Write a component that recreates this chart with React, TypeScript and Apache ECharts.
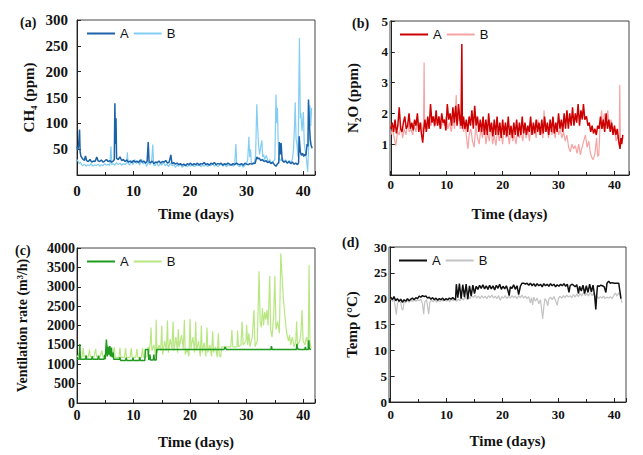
import React, { useEffect, useRef } from "react";
import * as echarts from "echarts";

// [day, ppm]
const ch4A: number[][] = [[0,55],[0.15,48],[0.3,60],[0.45,88],[0.55,45],[0.7,36],[0.9,33],[1.1,30],[1.3,28],[1.5,37],[1.7,28],[2.0,26],[2.3,30],[2.6,25],[2.9,27],[3.2,26],[3.5,35],[3.7,28],[4.0,26],[4.3,29],[4.6,25],[4.9,27],[5.2,30],[5.5,26],[5.8,28],[6.1,25],[6.4,27],[6.6,30],[6.7,139],[6.8,60],[6.9,110],[7.0,32],[7.3,30],[7.6,35],[7.9,28],[8.2,30],[8.5,26],[8.8,29],[9.1,25],[9.4,27],[9.7,24],[10.0,28],[10.3,25],[10.6,27],[10.9,24],[11.2,29],[11.5,25],[11.8,27],[12.1,23],[12.4,26],[12.6,64],[12.75,25],[13.0,24],[13.3,27],[13.6,22],[13.9,25],[14.2,24],[14.5,27],[14.8,23],[15.1,26],[15.4,25],[15.7,28],[16.0,23],[16.3,25],[16.6,39],[16.8,22],[17.1,24],[17.4,21],[17.7,23],[18.0,20],[18.3,22],[18.6,19],[18.9,21],[19.2,18],[19.5,22],[19.8,20],[20.1,23],[20.4,19],[20.7,22],[21.0,20],[21.3,23],[21.6,19],[21.9,22],[22.2,21],[22.5,24],[22.8,20],[23.1,22],[23.4,19],[23.7,23],[24.0,21],[24.3,24],[24.6,20],[24.9,22],[25.2,21],[25.5,23],[25.8,19],[26.1,22],[26.4,20],[26.7,23],[27.0,21],[27.3,19],[27.6,22],[27.9,20],[28.2,23],[28.5,21],[28.8,20],[29.1,22],[29.4,19],[29.7,23],[30.0,21],[30.3,20],[30.6,22],[30.9,21],[31.2,23],[31.5,22],[31.8,35],[32.0,31],[32.2,33],[32.5,28],[32.8,30],[33.1,26],[33.4,28],[33.7,24],[34.0,26],[34.3,22],[34.6,25],[34.9,20],[35.2,17],[35.5,22],[35.7,24],[35.8,64],[35.95,40],[36.1,62],[36.3,28],[36.6,25],[36.9,27],[37.2,23],[37.5,26],[37.8,22],[38.1,25],[38.4,21],[38.7,23],[39.0,20],[39.2,24],[39.3,75],[39.5,45],[39.7,38],[39.9,42],[40.1,36],[40.3,40],[40.5,38],[40.7,60],[40.85,55],[40.95,146],[41.1,100],[41.25,70],[41.4,58],[41.6,52]];
const ch4B: number[][] = [[0,30],[0.2,26],[0.4,22],[0.6,25],[0.8,20],[1.0,18],[1.3,21],[1.6,17],[1.9,20],[2.2,18],[2.5,22],[2.8,17],[3.1,20],[3.4,18],[3.7,21],[4.0,17],[4.3,20],[4.6,18],[4.9,22],[5.2,19],[5.5,21],[5.8,18],[6.0,55],[6.15,20],[6.4,22],[6.7,19],[7.0,24],[7.3,20],[7.6,23],[7.9,19],[8.2,22],[8.5,20],[8.8,24],[8.9,44],[9.05,22],[9.3,19],[9.6,28],[9.9,20],[10.2,30],[10.5,22],[10.8,27],[11.1,19],[11.4,31],[11.7,21],[12.0,26],[12.3,17],[12.6,24],[12.9,20],[13.2,25],[13.4,59],[13.55,20],[13.8,18],[14.1,24],[14.4,17],[14.7,22],[15.0,19],[15.3,25],[15.6,18],[15.9,21],[16.2,16],[16.5,23],[16.8,18],[17.1,20],[17.4,15],[17.7,19],[18.0,17],[18.3,21],[18.6,15],[18.9,18],[19.2,20],[19.5,16],[19.8,19],[20.1,17],[20.4,21],[20.7,16],[21.0,19],[21.3,18],[21.6,22],[21.9,16],[22.2,19],[22.5,17],[22.8,21],[23.1,16],[23.4,20],[23.7,18],[24.0,22],[24.3,17],[24.6,20],[24.9,16],[25.2,19],[25.5,21],[25.8,17],[26.1,20],[26.4,16],[26.7,19],[27.0,18],[27.3,21],[27.6,17],[27.9,20],[28.1,60],[28.25,22],[28.5,18],[28.8,16],[29.1,20],[29.4,15],[29.7,19],[30.0,22],[30.2,30],[30.4,74],[30.55,35],[30.7,50],[30.85,22],[31.1,20],[31.4,25],[31.6,40],[31.8,137],[31.95,95],[32.1,60],[32.3,40],[32.5,55],[32.7,67],[32.85,35],[33.0,40],[33.2,30],[33.5,38],[33.8,25],[34.1,30],[34.4,22],[34.7,26],[35.0,30],[35.2,156],[35.35,100],[35.45,130],[35.6,60],[35.8,30],[36.0,28],[36.3,33],[36.6,25],[36.9,30],[37.2,22],[37.5,28],[37.8,25],[38.1,30],[38.3,50],[38.5,100],[38.6,141],[38.75,70],[38.9,60],[39.1,35],[39.35,265],[39.5,110],[39.6,120],[39.8,85],[40.05,122],[40.2,60],[40.4,45],[40.6,30],[40.8,6],[41.0,60],[41.2,135],[41.35,95],[41.5,130]];

const n2oA: number[][] = [[0,1.5],[0.25,1.7],[0.5,1.4],[0.75,1.8],[1.0,1.35],[1.25,1.6],[1.5,2.2],[1.75,1.5],[2.0,1.4],[2.25,1.7],[2.5,1.9],[2.75,1.5],[3.0,1.6],[3.25,2.0],[3.5,1.5],[3.75,1.7],[4.0,1.45],[4.25,1.8],[4.5,1.6],[4.75,2.0],[5.0,1.4],[5.25,1.7],[5.5,1.3],[5.7,1.05],[5.9,1.5],[6.1,1.8],[6.35,1.4],[6.6,1.9],[6.85,1.5],[7.1,2.3],[7.35,1.7],[7.6,1.9],[7.85,1.6],[8.1,2.1],[8.35,1.6],[8.6,1.9],[8.85,1.5],[9.1,2.0],[9.35,1.7],[9.6,1.8],[9.85,1.45],[10.1,2.3],[10.35,1.8],[10.6,2.0],[10.85,1.6],[11.1,2.2],[11.35,1.7],[11.6,2.25],[11.85,1.6],[12.1,2.3],[12.35,1.8],[12.55,1.6],[12.7,4.25],[12.8,1.5],[13.0,1.9],[13.25,1.5],[13.5,1.8],[13.75,1.4],[14.0,1.9],[14.25,1.6],[14.5,2.1],[14.75,1.5],[15.0,2.25],[15.25,1.6],[15.5,1.9],[15.75,1.4],[16.0,1.8],[16.25,1.4],[16.5,1.9],[16.75,1.3],[17.0,1.8],[17.25,1.3],[17.5,2.0],[17.75,1.4],[18.0,1.7],[18.25,1.25],[18.5,1.8],[18.75,1.3],[19.0,1.9],[19.25,1.3],[19.5,1.7],[19.75,1.2],[20.0,1.8],[20.25,1.3],[20.5,1.7],[20.75,1.25],[21.0,1.9],[21.25,1.3],[21.5,1.6],[21.75,1.2],[22.0,1.7],[22.25,1.3],[22.5,1.8],[22.75,1.25],[23.0,1.7],[23.25,1.3],[23.5,1.9],[23.75,1.35],[24.0,1.7],[24.25,1.3],[24.5,1.6],[24.75,1.4],[25.0,1.9],[25.25,1.3],[25.5,1.7],[25.75,1.35],[26.0,1.8],[26.25,1.4],[26.5,1.7],[26.75,1.3],[27.0,1.8],[27.25,1.35],[27.5,1.9],[27.75,1.4],[28.0,1.7],[28.25,1.3],[28.5,1.8],[28.75,1.4],[29.0,1.9],[29.25,1.35],[29.5,1.7],[29.75,1.4],[30.0,2.0],[30.25,1.5],[30.5,1.8],[30.75,1.4],[31.0,2.0],[31.25,1.5],[31.5,2.1],[31.75,1.5],[32.0,2.0],[32.25,1.6],[32.5,2.2],[32.75,1.6],[33.0,2.0],[33.25,1.7],[33.5,2.3],[33.75,1.6],[34.0,2.1],[34.25,1.8],[34.45,2.3],[34.7,1.8],[35.0,1.9],[35.25,1.6],[35.5,1.7],[35.75,1.4],[36.0,1.6],[36.25,1.35],[36.5,1.5],[36.75,1.3],[37.0,1.6],[37.25,1.5],[37.5,1.9],[37.75,1.5],[38.0,1.8],[38.25,1.4],[38.5,2.0],[38.75,1.5],[39.0,1.8],[39.25,1.4],[39.5,1.7],[39.75,1.3],[40.0,1.6],[40.25,1.3],[40.5,1.5],[40.75,1.1],[41.0,0.85],[41.15,1.2],[41.3,1.0],[41.5,1.3]];
const n2oB: number[][] = [[0,1.3],[0.3,1.5],[0.6,1.2],[0.9,0.95],[1.2,1.4],[1.5,1.3],[1.8,1.6],[2.1,1.2],[2.4,1.5],[2.7,1.3],[3.0,1.7],[3.3,1.4],[3.6,1.5],[3.9,1.3],[4.2,1.6],[4.5,1.4],[4.8,1.8],[5.1,1.5],[5.4,1.7],[5.7,1.4],[5.85,1.6],[5.95,3.65],[6.05,1.5],[6.3,1.7],[6.6,1.5],[6.9,1.8],[7.2,1.6],[7.5,1.9],[7.8,1.55],[8.1,1.8],[8.4,1.6],[8.7,1.9],[9.0,1.5],[9.3,1.8],[9.6,1.6],[9.9,1.9],[10.2,1.5],[10.5,1.7],[10.8,1.4],[11.1,1.8],[11.4,1.5],[11.7,2.6],[11.85,1.7],[12.1,1.9],[12.4,1.5],[12.7,1.8],[13.0,1.4],[13.3,1.6],[13.6,1.1],[13.8,0.85],[14.0,1.3],[14.3,1.5],[14.6,1.1],[14.9,0.9],[15.2,1.6],[15.5,1.2],[15.8,1.0],[16.1,1.5],[16.4,1.2],[16.7,1.7],[17.0,1.0],[17.3,1.4],[17.6,1.1],[17.9,1.6],[18.2,1.0],[18.5,1.3],[18.8,0.95],[19.1,1.5],[19.4,1.1],[19.7,1.4],[20.0,1.0],[20.3,1.6],[20.6,1.2],[20.9,1.4],[21.2,1.0],[21.5,1.5],[21.8,1.1],[22.1,1.3],[22.4,1.0],[22.7,1.5],[23.0,1.2],[23.3,1.4],[23.6,1.1],[23.9,1.6],[24.2,1.2],[24.5,1.5],[24.8,1.1],[25.1,1.7],[25.4,1.3],[25.7,1.5],[26.0,1.2],[26.3,1.8],[26.6,1.3],[26.9,1.5],[27.2,1.2],[27.4,2.1],[27.6,1.4],[27.9,1.6],[28.2,1.2],[28.5,1.8],[28.8,1.3],[29.1,1.5],[29.4,1.2],[29.7,1.7],[30.0,1.3],[30.3,1.5],[30.6,1.2],[30.9,1.4],[31.2,1.1],[31.5,1.3],[31.8,0.9],[32.1,0.75],[32.4,1.0],[32.7,0.85],[33.0,0.95],[33.3,0.7],[33.6,1.0],[33.9,0.65],[34.2,0.9],[34.5,1.1],[34.8,1.3],[35.1,0.9],[35.4,1.1],[35.7,0.7],[36.0,0.55],[36.2,0.5],[36.5,0.7],[36.8,1.2],[37.0,0.6],[37.2,0.65],[37.4,1.5],[37.7,2.1],[37.9,1.5],[38.2,2.0],[38.5,1.6],[38.8,2.1],[39.1,1.5],[39.4,1.8],[39.7,1.3],[40.0,1.5],[40.3,1.1],[40.6,1.3],[40.85,1.0],[40.95,2.92],[41.05,1.2],[41.3,1.1],[41.5,1.2]];

const ventA: number[][] = [[0,1130],[0.4,1130],[0.5,1520],[0.6,1130],[1.5,1130],[1.6,1230],[1.7,1130],[2.6,1130],[2.7,1200],[2.8,1130],[3.7,1130],[3.8,1220],[3.9,1130],[4.8,1130],[4.9,1240],[5.0,1130],[5.2,1640],[5.35,1200],[5.5,1450],[5.6,1250],[5.8,1470],[5.9,1200],[6.1,1430],[6.2,1180],[6.4,1300],[6.5,1130],[7.5,1130],[7.6,1180],[7.7,1100],[8.6,1100],[8.7,1170],[8.8,1100],[9.8,1100],[9.9,1160],[10.0,1100],[11.0,1100],[11.1,1180],[11.2,1100],[12.0,1100],[12.1,1380],[12.6,1380],[12.7,1110],[12.9,1250],[13.0,1110],[13.5,1110],[13.6,1250],[13.7,1110],[14.0,1110],[14.1,1380],[26.0,1380],[26.2,1440],[26.4,1380],[34.3,1380],[34.4,1470],[34.5,1380],[38.8,1380],[38.9,1530],[39.0,1400],[39.3,1380],[40.3,1380],[40.4,1450],[40.5,1380],[40.9,1380],[41.0,1620],[41.1,1400],[41.4,1380]];
const ventB: number[][] = [[0,1180],[0.3,1250],[0.5,1350],[0.6,1200],[0.9,1180],[1.1,1420],[1.25,1200],[2.0,1180],[2.2,1380],[2.35,1200],[3.0,1190],[3.3,1400],[3.45,1200],[4.0,1180],[4.4,1350],[4.55,1200],[5.0,1200],[5.4,1500],[5.6,1250],[6.0,1350],[6.3,1200],[6.6,1440],[6.75,1180],[7.4,1180],[7.6,1430],[7.75,1180],[8.4,1180],[8.6,1420],[8.75,1180],[9.4,1180],[9.6,1420],[9.75,1180],[10.4,1180],[10.6,1400],[10.75,1180],[11.4,1180],[11.6,1420],[11.75,1180],[12.4,1200],[12.6,1450],[12.75,1300],[13.0,1600],[13.1,1950],[13.25,1350],[13.6,1500],[13.9,1200],[14.0,2150],[14.15,1300],[14.5,1500],[14.8,1350],[15.0,2000],[15.15,1250],[15.5,1600],[15.8,1350],[16.0,2130],[16.15,1300],[16.5,1650],[16.8,1400],[17.0,2100],[17.15,1350],[17.5,1700],[17.8,1300],[17.9,1900],[18.1,1450],[18.5,1750],[18.8,1400],[19.0,2150],[19.15,1250],[19.5,1400],[19.8,1200],[20.0,2170],[20.15,1400],[20.5,1700],[20.8,1300],[21.0,2100],[21.15,1350],[21.5,1600],[21.8,1200],[22.0,2000],[22.15,1300],[22.5,1550],[22.8,1200],[23.0,1950],[23.15,1300],[23.5,1500],[23.8,1200],[24.0,1850],[24.15,1300],[24.5,1450],[24.8,1180],[25.0,1800],[25.15,1250],[25.4,1180],[25.6,1450],[27.2,1450],[27.4,1880],[27.55,1450],[28.3,1450],[28.4,1870],[28.55,1450],[29.0,1500],[29.2,2100],[29.4,1500],[29.9,1600],[30.0,2020],[30.2,1500],[30.4,1800],[30.6,1450],[31.0,1700],[31.3,2400],[31.5,1450],[31.9,1600],[32.2,3400],[32.4,2100],[32.6,1950],[32.8,2450],[33.0,2000],[33.2,2350],[33.4,2150],[33.6,2400],[33.8,2000],[34.1,3280],[34.25,1900],[34.5,1700],[34.8,2300],[35.0,3280],[35.2,1900],[35.5,2100],[35.8,1800],[36.05,3860],[36.3,3200],[36.5,2700],[36.8,2200],[37.1,1800],[37.4,1600],[37.6,1750],[37.8,1500],[38.1,1700],[38.4,1450],[38.7,1600],[38.85,2100],[39.0,1500],[39.4,1600],[39.6,1800],[39.8,2400],[40.0,1600],[40.3,1500],[40.6,1700],[40.9,1450],[41.05,3560],[41.2,1600],[41.4,1420]];

const tempA: number[][] = [[0,20.3],[0.3,19.8],[0.6,20.4],[0.9,19.6],[1.2,20.0],[1.5,19.5],[1.8,19.9],[2.1,19.3],[2.4,19.8],[2.7,19.5],[3.0,20.0],[3.3,19.6],[3.6,19.9],[3.9,20.1],[4.2,19.8],[4.5,20.2],[4.8,20.0],[5.1,20.5],[5.4,20.3],[5.7,20.6],[6.0,20.4],[6.3,20.5],[6.6,20.1],[6.9,20.3],[7.2,19.9],[7.5,20.2],[7.8,19.8],[8.1,20.1],[8.4,19.7],[8.7,20.0],[9.0,19.8],[9.3,20.1],[9.6,19.7],[9.9,20.0],[10.2,19.8],[10.5,20.1],[10.8,19.9],[11.1,20.2],[11.4,19.9],[11.6,19.8],[11.75,22.8],[12.0,20.2],[12.3,22.9],[12.6,20.0],[12.9,22.7],[13.2,20.3],[13.5,22.8],[13.8,19.9],[14.1,22.5],[14.4,20.5],[14.7,22.6],[15.0,21.0],[15.3,22.4],[15.6,21.8],[15.9,22.6],[16.2,22.0],[16.5,22.7],[16.8,21.9],[17.1,22.5],[17.4,21.8],[17.7,22.6],[18.0,21.9],[18.3,22.5],[18.6,21.7],[18.9,22.6],[19.2,22.0],[19.5,22.8],[19.8,21.8],[20.1,22.4],[20.4,21.9],[20.7,22.5],[21.0,21.5],[21.2,20.6],[21.4,22.3],[21.7,22.0],[22.0,22.7],[22.3,21.8],[22.6,22.5],[22.9,20.8],[23.2,22.4],[23.5,23.0],[23.8,23.0],[24.1,22.8],[24.4,23.0],[24.7,22.6],[25.0,23.0],[25.3,22.5],[25.6,22.9],[25.9,22.4],[26.2,22.9],[26.5,22.5],[26.8,22.8],[27.1,22.3],[27.4,22.9],[27.7,22.5],[28.0,22.8],[28.3,22.4],[28.6,22.9],[28.9,22.5],[29.2,22.8],[29.5,22.3],[29.8,22.7],[30.1,22.4],[30.4,22.8],[30.7,22.5],[31.0,22.9],[31.3,22.4],[31.6,22.8],[31.9,21.2],[32.1,22.5],[32.4,22.8],[32.7,22.6],[33.0,22.3],[33.3,22.7],[33.6,21.0],[33.8,22.4],[34.1,21.5],[34.4,22.6],[34.7,21.0],[35.0,22.5],[35.3,21.2],[35.6,22.8],[35.9,21.3],[36.2,22.6],[36.5,20.5],[36.7,17.9],[36.85,20.6],[37.0,22.5],[37.3,22.4],[37.6,22.6],[37.9,22.5],[38.2,22.3],[38.5,21.2],[38.7,23.0],[39.0,23.4],[39.3,23.0],[39.6,23.1],[40.0,23.0],[40.4,23.0],[40.8,23.0],[41.0,21.5],[41.2,20.0]];
const tempB: number[][] = [[0,20.0],[0.3,19.5],[0.6,19.8],[0.8,18.5],[1.0,16.9],[1.2,19.0],[1.5,19.6],[1.8,19.2],[2.0,18.0],[2.2,17.8],[2.4,19.5],[2.7,19.2],[3.0,19.7],[3.3,19.3],[3.6,19.8],[3.9,19.4],[4.2,19.9],[4.5,19.5],[4.8,19.8],[5.1,19.6],[5.4,19.9],[5.7,19.0],[5.9,17.0],[6.1,19.4],[6.4,19.8],[6.6,18.5],[6.8,17.0],[7.0,19.3],[7.3,19.7],[7.6,19.4],[7.9,19.8],[8.2,19.3],[8.5,19.7],[8.8,19.4],[9.1,19.8],[9.4,19.5],[9.7,19.9],[10.0,19.5],[10.3,19.8],[10.6,19.4],[10.9,19.9],[11.2,19.6],[11.5,19.9],[11.8,19.5],[12.1,19.9],[12.4,19.6],[12.7,20.1],[13.0,19.7],[13.3,20.3],[13.6,19.9],[13.9,20.5],[14.2,20.0],[14.5,20.6],[14.8,20.2],[15.1,20.7],[15.4,20.1],[15.7,20.5],[16.0,20.0],[16.3,20.6],[16.6,20.1],[16.9,20.5],[17.2,20.0],[17.5,20.6],[17.8,20.2],[18.1,20.7],[18.4,20.1],[18.7,20.5],[19.0,20.0],[19.3,20.6],[19.6,19.7],[19.9,20.4],[20.2,20.1],[20.5,20.6],[20.8,20.0],[21.1,20.5],[21.4,20.1],[21.7,20.6],[22.0,20.2],[22.3,20.5],[22.6,20.0],[22.9,20.6],[23.2,20.2],[23.5,20.7],[23.8,20.1],[24.1,20.5],[24.4,20.0],[24.7,20.4],[25.0,19.2],[25.2,20.2],[25.4,18.8],[25.6,20.3],[25.9,19.5],[26.2,20.1],[26.5,19.0],[26.8,19.8],[27.0,18.0],[27.2,16.1],[27.4,18.5],[27.6,20.0],[27.9,19.5],[28.1,18.6],[28.3,19.9],[28.6,20.3],[28.9,19.8],[29.2,20.4],[29.5,19.6],[29.8,18.7],[30.0,20.0],[30.3,20.5],[30.6,20.1],[30.9,20.6],[31.2,20.2],[31.5,20.7],[31.8,20.3],[32.1,20.6],[32.4,20.2],[32.7,20.8],[33.0,20.3],[33.3,20.9],[33.6,20.4],[33.9,21.0],[34.2,20.5],[34.5,21.2],[34.8,20.6],[35.1,21.0],[35.4,20.5],[35.7,21.2],[36.0,20.6],[36.3,21.0],[36.6,20.2],[36.9,20.5],[37.2,20.0],[37.5,20.4],[37.8,20.1],[38.1,20.5],[38.4,20.0],[38.7,20.3],[39.0,20.1],[39.3,20.4],[39.6,20.0],[39.9,20.6],[40.2,21.1],[40.5,20.5],[40.8,21.2],[41.1,20.4],[41.4,19.2]];

const panelLabels = ["(a)", "(b)", "(c)", "(d)"];
const yTitles = ["CH\u2084 (ppm)", "N\u2082O (ppm)", "Ventilation rate (m\u00B3/h)", "Temp (\u00B0C)"];
const xTitle = "Time (days)";
const yMax = [300, 5, 4000, 30];
const yInterval = [50, 1, 500, 5];

const SERIF = "'Liberation Serif', 'Times New Roman', serif";
const SANS = "'Liberation Sans', Arial, sans-serif";

export default function App() {
  const ref = useRef<HTMLDivElement>(null);
  useEffect(() => {
    if (!ref.current) return;
    const chart = echarts.init(ref.current, undefined, { renderer: "svg" });

    const grids = [
      { left: 77, top: 20, width: 238, height: 155 },
      { left: 390, top: 21, width: 239, height: 154 },
      { left: 77, top: 248, width: 238, height: 155 },
      { left: 389, top: 247, width: 237, height: 155 },
    ];
    const xMin = [0, -0.15, 0, -0.3];
    const xMax = [42.1, 42.6, 42.1, 42.1];
    const xLabelSize = [15, 13, 14, 13];
    const yLabelSize = [15, 13, 14, 13];
    const xLabelMargin = [8, 3, 5, 6];
    const yLabelMargin = [9, 2, 2, 2];
    const yNameGap = [41, 30, 48, 30];
    const yNameSize = [15, 15, 14, 15];
    const hideZero = [true, true, false, false];

    const colors = [
      ["#1c62a6", "#82cdf4"],
      ["#cc0000", "#f6a3a3"],
      ["#1f9a1f", "#b8e782"],
      ["#111111", "#c3c3c3"],
    ];
    const dataSets = [
      [ch4A, ch4B],
      [n2oA, n2oB],
      [ventA, ventB],
      [tempA, tempB],
    ];
    const prefixes = ["a", "b", "c", "d"];
    const legendPos = [
      { left: 87, top: 27 },
      { left: 400, top: 28 },
      { left: 87, top: 255 },
      { left: 399, top: 254 },
    ];

    const xAxis = grids.map((_, i) => ({
      type: "value",
      gridIndex: i,
      min: xMin[i] < 0 ? xMin[i] : 0,
      max: xMax[i],
      interval: xMin[i] < 0 ? undefined : 10,
      splitNumber: 5,
      name: xTitle,
      nameLocation: "middle",
      nameGap: 31,
      nameTextStyle: { fontFamily: SERIF, fontWeight: "bold", fontSize: 15, color: "#111" },
      axisLine: { show: true, lineStyle: { color: "#222", width: 1 } },
      axisTick: { show: true, inside: true, length: 4, lineStyle: { color: "#222" } },
      minorTick: { show: true, splitNumber: 2, length: 3, lineStyle: { color: "#222" } },
      splitLine: { show: false },
      axisLabel: {
        fontFamily: SERIF,
        fontWeight: "bold",
        fontSize: xLabelSize[i],
        color: "#111",
        margin: xLabelMargin[i],
        showMaxLabel: false,
        showMinLabel: true,
        formatter: (v: number) => (Math.abs(v - Math.round(v / 10) * 10) < 1e-6 ? String(Math.round(v)) : ""),
      },
    }));

    const yAxis = grids.map((_, i) => ({
      type: "value",
      gridIndex: i,
      min: 0,
      max: yMax[i],
      interval: yInterval[i],
      name: yTitles[i],
      nameLocation: "middle",
      nameGap: yNameGap[i],
      nameTextStyle: { fontFamily: SERIF, fontWeight: "bold", fontSize: yNameSize[i], color: "#111" },
      axisLine: { show: true, lineStyle: { color: "#222", width: 1 } },
      axisTick: { show: true, inside: true, length: 4, lineStyle: { color: "#222" } },
      splitLine: { show: false },
      axisLabel: {
        fontFamily: SERIF,
        fontWeight: "bold",
        fontSize: yLabelSize[i],
        color: "#111",
        margin: yLabelMargin[i],
        formatter: (v: number) => (hideZero[i] && v === 0 ? "" : String(v)),
      },
    }));

    const series: any[] = [];
    for (let i = 0; i < 4; i++) {
      for (const k of [1, 0]) {
        series.push({
          type: "line",
          name: prefixes[i] + "-" + (k === 0 ? "A" : "B"),
          xAxisIndex: i,
          yAxisIndex: i,
          data: dataSets[i][k],
          showSymbol: false,
          symbol: "none",
          color: colors[i][k],
          lineStyle: { color: colors[i][k], width: k === 0 ? 1.5 : 1.2 },
          z: k === 0 ? 3 : 2,
        });
      }
    }

    const legend = prefixes.map((p, i) => ({
      data: [p + "-A", p + "-B"],
      left: legendPos[i].left,
      top: legendPos[i].top,
      orient: "horizontal",
      padding: 0,
      icon: "rect",
      itemWidth: 28,
      itemHeight: 2,
      itemGap: 5,
      selectedMode: false,
      formatter: (n: string) => n.split("-")[1],
      textStyle: { fontFamily: SANS, fontSize: 13, color: "#111" },
    }));

    const labelPos = [
      [20, 23],
      [352, 24],
      [15, 251],
      [342, 243],
    ];
    const graphic = panelLabels.map((t, i) => ({
      type: "text",
      left: labelPos[i][0],
      top: labelPos[i][1] - 8,
      style: { text: t, fontFamily: SERIF, fontWeight: "bold", fontSize: 14, fill: "#111" },
    }));

    chart.setOption({
      animation: false,
      backgroundColor: "#ffffff",
      grid: grids.map((g) => ({ ...g, show: true, borderColor: "#444", borderWidth: 1, backgroundColor: "transparent" })),
      xAxis,
      yAxis,
      legend,
      series,
      graphic,
    } as any);

    return () => chart.dispose();
  }, []);

  return <div ref={ref} style={{ position: "absolute", left: 0, top: 0, width: 643, height: 455 }} />;
}
